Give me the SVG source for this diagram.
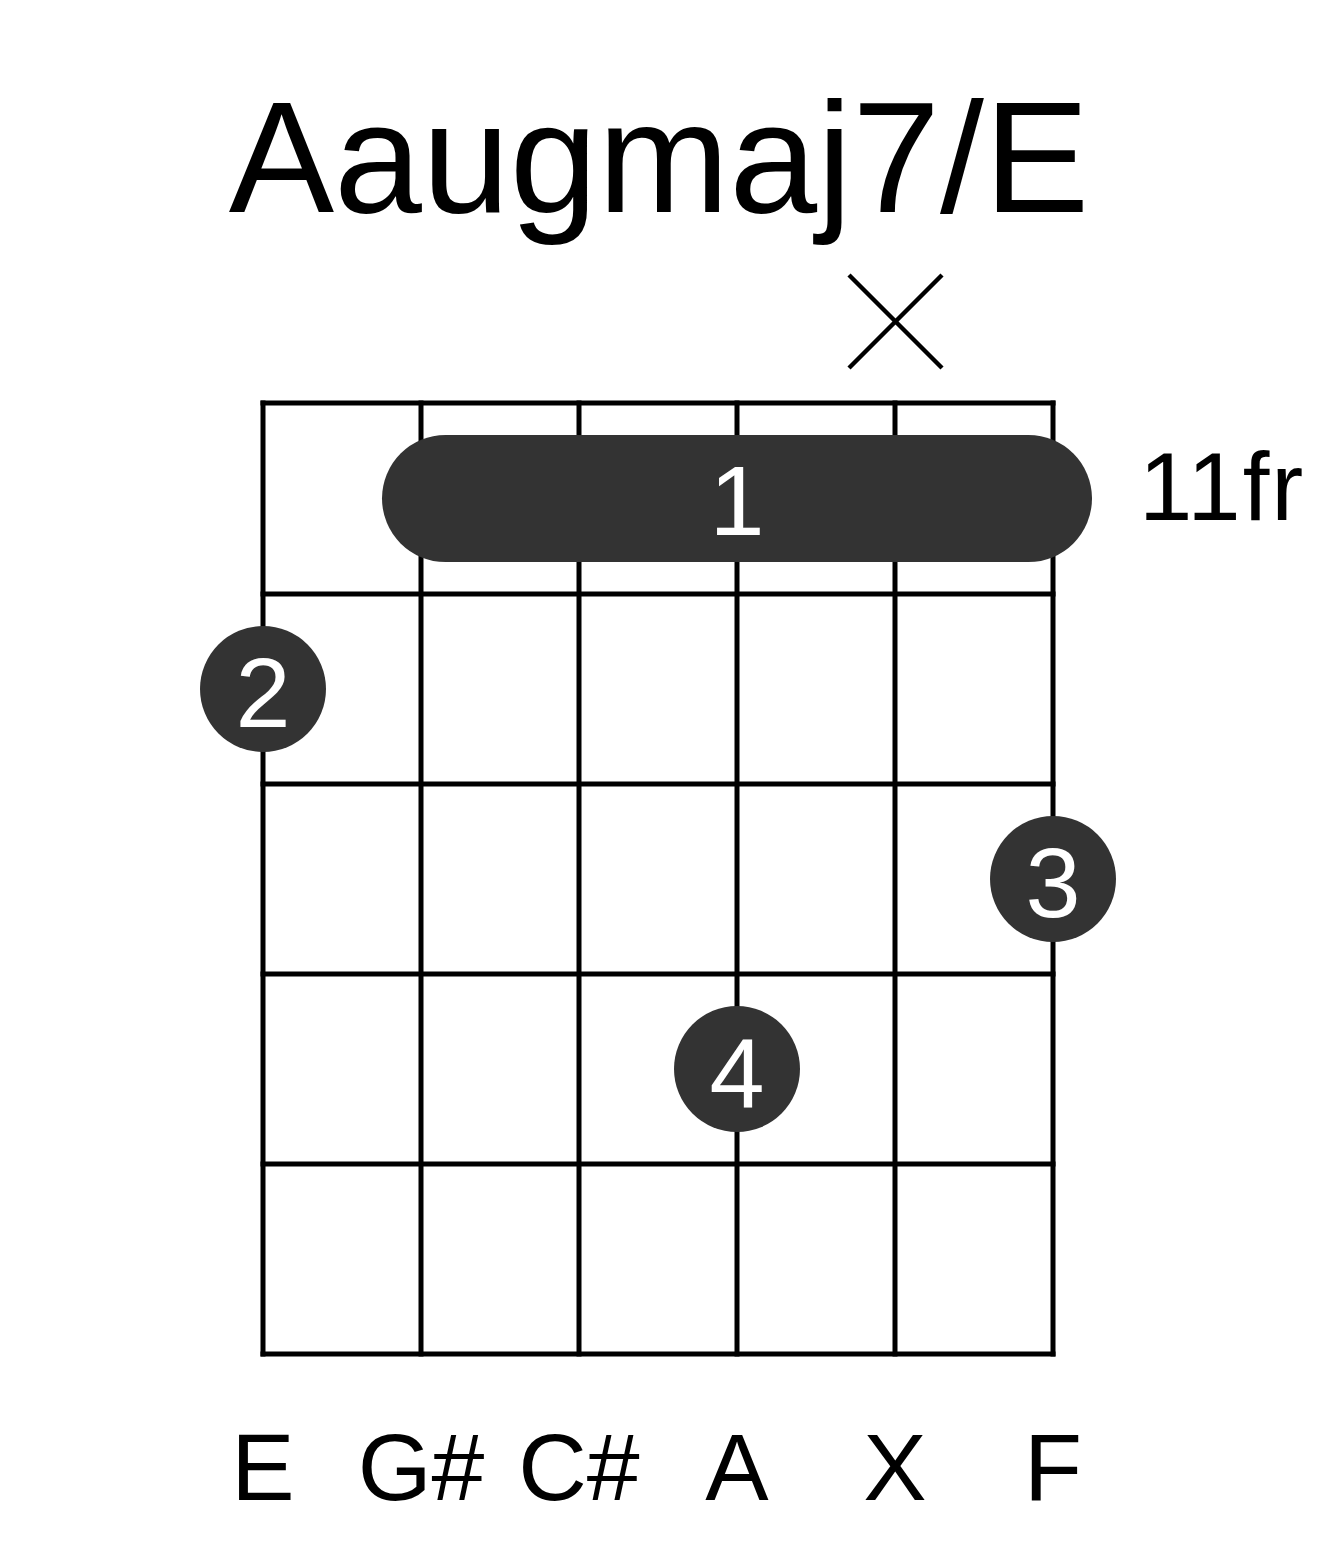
<svg xmlns="http://www.w3.org/2000/svg" width="1317" height="1551" viewBox="0 0 1317 1551">
<style>
.t{font-family:"Liberation Sans",Arial,sans-serif;fill:#000;text-anchor:middle}
.g{stroke:#000;stroke-width:5;fill:none;stroke-linecap:square}
.dot{fill:#333333}
.f{font-family:"Liberation Sans",Arial,sans-serif;fill:#fff;text-anchor:middle;font-size:99px}
</style>
<rect width="1317" height="1551" fill="#fff"/>
<text class="t" x="659" y="212" font-size="158">Aaugmaj7/E</text>
<g id="grid">
<line class="g" x1="263" y1="403" x2="1053" y2="403"/>
<line class="g" x1="263" y1="594" x2="1053" y2="594"/>
<line class="g" x1="263" y1="784" x2="1053" y2="784"/>
<line class="g" x1="263" y1="974" x2="1053" y2="974"/>
<line class="g" x1="263" y1="1164" x2="1053" y2="1164"/>
<line class="g" x1="263" y1="1354" x2="1053" y2="1354"/>
<line class="g" x1="263" y1="403" x2="263" y2="1354"/>
<line class="g" x1="421" y1="403" x2="421" y2="1354"/>
<line class="g" x1="579" y1="403" x2="579" y2="1354"/>
<line class="g" x1="737" y1="403" x2="737" y2="1354"/>
<line class="g" x1="895" y1="403" x2="895" y2="1354"/>
<line class="g" x1="1053" y1="403" x2="1053" y2="1354"/>
</g>
<g id="mute">
<line x1="849" y1="275" x2="942" y2="368" stroke="#000" stroke-width="4.5"/>
<line x1="942" y1="275" x2="849" y2="368" stroke="#000" stroke-width="4.5"/>
</g>
<g id="barre">
<rect class="dot" x="382" y="435" width="710" height="127" rx="63.5"/>
<text class="f" x="737" y="535">1</text>
</g>
<g id="finger2">
<circle class="dot" cx="263" cy="689" r="63"/>
<text class="f" x="263" y="727">2</text>
</g>
<g id="finger3">
<circle class="dot" cx="1053" cy="879" r="63"/>
<text class="f" x="1053" y="917">3</text>
</g>
<g id="finger4">
<circle class="dot" cx="737" cy="1069" r="63"/>
<text class="f" x="737" y="1107">4</text>
</g>
<text class="t" x="1139" y="520" font-size="96" style="text-anchor:start;letter-spacing:2px">11fr</text>
<g id="labels">
<text class="t" x="263" y="1500" font-size="95">E</text>
<text class="t" x="421" y="1500" font-size="95">G#</text>
<text class="t" x="579" y="1500" font-size="95">C#</text>
<text class="t" x="737" y="1500" font-size="95">A</text>
<text class="t" x="895" y="1500" font-size="95">X</text>
<text class="t" x="1053" y="1500" font-size="95">F</text>
</g>
</svg>
